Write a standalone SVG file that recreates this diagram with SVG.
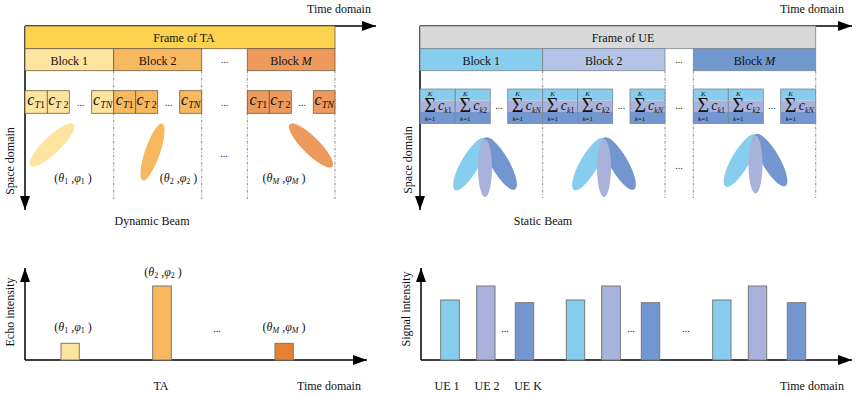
<svg xmlns="http://www.w3.org/2000/svg" width="858" height="395" viewBox="0 0 858 395">
<style>
text{font-family:"Liberation Serif","Times New Roman",serif;fill:#111;}
.t12{font-size:12px;}
.mid{text-anchor:middle;}
.it{font-style:italic;}
.dots{font-size:10px;text-anchor:middle;}
.ax{stroke:#000;stroke-width:1.5;fill:none;}
.dash{stroke:#666;stroke-width:0.7;stroke-dasharray:3 1.5 1 1.5;fill:none;}
.lb{stroke:#6f5f42;stroke-width:0.8;}
.rb{stroke:#7a8590;stroke-width:0.8;}
.bar{stroke:#777;stroke-width:1;}
.y1{fill:#FFE49F;} .y2{fill:#F7B860;} .y3{fill:#EE9A5C;} .y4{fill:#E8812F;}
.b1{fill:#87CDEE;} .b2{fill:#A9B2DB;} .b3{fill:#7396D0;}
.ct{font-size:16px;font-style:italic;text-anchor:middle;}
.sb{font-size:10px;}
.cs{font-size:14px;font-style:italic;}
.ss{font-size:8px;}
.sig{font-size:20px;text-anchor:middle;}
.lim{font-size:7px;text-anchor:middle;}
</style>
<defs>
<marker id="arr" viewBox="0 0 14 10" refX="14" refY="5" markerWidth="14" markerHeight="10" orient="auto" markerUnits="userSpaceOnUse"><path d="M0,0 L14,5 L0,10 Z" fill="#000"/></marker>
<g id="rcell">
<rect x="0" y="0" width="35" height="11.5" class="b1"/>
<rect x="0" y="11.5" width="35" height="11.5" class="b2"/>
<rect x="0" y="23" width="35" height="11.5" class="b3"/>
<rect x="0" y="0" width="35" height="34.5" fill="none" class="rb"/>
<text x="10" y="23" class="sig">Σ</text>
<text x="10" y="7" class="lim it">K</text>
<text x="10" y="32" class="lim"><tspan class="it">k</tspan>=1</text>
</g>
<g id="beam">
<ellipse cx="-15" cy="26" rx="30" ry="9" class="b1" transform="rotate(-60 -15 26)"/>
<ellipse cx="15" cy="25.5" rx="30" ry="9" class="b3" transform="rotate(60 15 25.5)"/>
<ellipse cx="0" cy="30" rx="7" ry="29" class="b2"/>
</g>
</defs>

<!-- connectors / axes -->
<g id="connectors">
<line x1="25" y1="26" x2="376" y2="26" class="ax" marker-end="url(#arr)"/>
<line x1="25" y1="26" x2="25" y2="210" class="ax" marker-end="url(#arr)"/>
<line x1="420" y1="26" x2="852" y2="26" class="ax" marker-end="url(#arr)"/>
<line x1="420" y1="26" x2="420" y2="210" class="ax" marker-end="url(#arr)"/>
<line x1="25" y1="360" x2="25" y2="268" class="ax" marker-end="url(#arr)"/>
<line x1="25" y1="360" x2="367" y2="360" class="ax" marker-end="url(#arr)"/>
<line x1="421" y1="360" x2="421" y2="268" class="ax" marker-end="url(#arr)"/>
<line x1="421" y1="360" x2="852" y2="360" class="ax" marker-end="url(#arr)"/>
<line x1="113.7" y1="70.7" x2="113.7" y2="199" class="dash"/>
<line x1="201.7" y1="70.7" x2="201.7" y2="199" class="dash"/>
<line x1="247.3" y1="70.7" x2="247.3" y2="199" class="dash"/>
<line x1="335" y1="70.7" x2="335" y2="199" class="dash"/>
<line x1="542.7" y1="70.7" x2="542.7" y2="198" class="dash"/>
<line x1="665" y1="70.7" x2="665" y2="198" class="dash"/>
<line x1="693.3" y1="70.7" x2="693.3" y2="198" class="dash"/>
<line x1="815.7" y1="70.7" x2="815.7" y2="198" class="dash"/>
</g>

<!-- top-left: TA frame -->
<g id="ta-frame">
<rect x="25" y="26" width="310" height="22.7" fill="#FDD24F" class="lb"/>
<text x="184" y="41.5" class="t12 mid">Frame of TA</text>
</g>
<g id="ta-block1">
<rect x="25" y="48.7" width="88.7" height="22" class="y1 lb"/>
<text x="69.3" y="64.5" class="t12 mid">Block 1</text>
</g>
<g id="ta-block2">
<rect x="113.7" y="48.7" width="88" height="22" class="y2 lb"/>
<text x="157.7" y="64.5" class="t12 mid">Block 2</text>
</g>
<text x="224.5" y="63" class="dots">...</text>
<g id="ta-blockM">
<rect x="247.3" y="48.7" width="87.7" height="22" class="y3 lb"/>
<text x="291" y="64.5" class="t12 mid">Block <tspan class="it">M</tspan></text>
</g>

<g id="ta-cells1">
<rect x="25" y="90.7" width="22.3" height="22.6" class="y1 lb"/>
<rect x="47.3" y="90.7" width="22" height="22.6" class="y1 lb"/>
<rect x="91.7" y="90.7" width="22" height="22.6" class="y1 lb"/>
<text x="36.2" y="105" class="ct">c<tspan class="sb" dy="2.5">T</tspan><tspan class="sb" font-style="normal">1</tspan></text>
<text x="58.3" y="105" class="ct">c<tspan class="sb" dy="2.5">T</tspan><tspan class="sb" font-style="normal"> 2</tspan></text>
<text x="80.5" y="106" class="dots">...</text>
<text x="102.7" y="105" class="ct">c<tspan class="sb" dy="2.5">TN</tspan></text>
</g>
<g id="ta-cells2">
<rect x="113.7" y="90.7" width="22" height="22.6" class="y2 lb"/>
<rect x="135.7" y="90.7" width="22" height="22.6" class="y2 lb"/>
<rect x="179.7" y="90.7" width="22" height="22.6" class="y2 lb"/>
<text x="124.7" y="105" class="ct">c<tspan class="sb" dy="2.5">T</tspan><tspan class="sb" font-style="normal">1</tspan></text>
<text x="146.7" y="105" class="ct">c<tspan class="sb" dy="2.5">T</tspan><tspan class="sb" font-style="normal"> 2</tspan></text>
<text x="168.7" y="106" class="dots">...</text>
<text x="190.7" y="105" class="ct">c<tspan class="sb" dy="2.5">TN</tspan></text>
</g>
<text x="224.5" y="106" class="dots">...</text>
<g id="ta-cellsM">
<rect x="247.3" y="90.7" width="22" height="22.6" class="y3 lb"/>
<rect x="269.3" y="90.7" width="22" height="22.6" class="y3 lb"/>
<rect x="313.3" y="90.7" width="21.7" height="22.6" class="y3 lb"/>
<text x="258.3" y="105" class="ct">c<tspan class="sb" dy="2.5">T</tspan><tspan class="sb" font-style="normal">1</tspan></text>
<text x="280.3" y="105" class="ct">c<tspan class="sb" dy="2.5">T</tspan><tspan class="sb" font-style="normal"> 2</tspan></text>
<text x="302.3" y="106" class="dots">...</text>
<text x="324.2" y="105" class="ct">c<tspan class="sb" dy="2.5">TN</tspan></text>
</g>

<g id="ta-beams">
<ellipse cx="52" cy="145" rx="30" ry="8.5" class="y1" transform="rotate(-44 52 145)"/>
<ellipse cx="152.5" cy="152" rx="30" ry="7.5" class="y2" transform="rotate(-71 152.5 152)"/>
<ellipse cx="311" cy="145.5" rx="30" ry="8.5" class="y3" transform="rotate(45 311 145.5)"/>
<text x="224" y="157" class="dots">...</text>
<text x="73" y="182" class="t12 mid">(<tspan class="it">θ</tspan><tspan font-size="8" dy="2">1</tspan><tspan dy="-2"> ,</tspan><tspan class="it">φ</tspan><tspan font-size="8" dy="2">1</tspan><tspan dy="-2"> )</tspan></text>
<text x="178.5" y="182" class="t12 mid">(<tspan class="it">θ</tspan><tspan font-size="8" dy="2">2</tspan><tspan dy="-2"> ,</tspan><tspan class="it">φ</tspan><tspan font-size="8" dy="2">2</tspan><tspan dy="-2"> )</tspan></text>
<text x="284" y="182" class="t12 mid">(<tspan class="it">θ</tspan><tspan font-size="8" dy="2" class="it">M</tspan><tspan dy="-2"> ,</tspan><tspan class="it">φ</tspan><tspan font-size="8" dy="2" class="it">M</tspan><tspan dy="-2"> )</tspan></text>
</g>

<text x="339" y="12.5" class="t12 mid">Time domain</text>
<text transform="translate(13.5,161) rotate(-90)" class="t12 mid">Space domain</text>
<text x="152" y="225" class="t12 mid">Dynamic Beam</text>

<!-- top-right: UE frame -->
<g id="ue-frame">
<rect x="420" y="26" width="395.7" height="22.7" fill="#D9D9D9" class="rb"/>
<text x="623" y="41.5" class="t12 mid">Frame of UE</text>
</g>
<g id="ue-block1">
<rect x="420" y="48.7" width="122.7" height="22" class="b1 rb"/>
<text x="481.3" y="64.5" class="t12 mid">Block 1</text>
</g>
<g id="ue-block2">
<rect x="542.7" y="48.7" width="122.3" height="22" fill="#B4C5E7" class="rb"/>
<text x="603.8" y="64.5" class="t12 mid">Block 2</text>
</g>
<text x="679" y="63" class="dots">...</text>
<g id="ue-blockM">
<rect x="693.3" y="48.7" width="122.4" height="22" fill="#7098CC" class="rb"/>
<text x="754.5" y="64.5" class="t12 mid">Block <tspan class="it">M</tspan></text>
</g>

<g id="ue-cells1">
<use href="#rcell" x="420" y="89"/>
<use href="#rcell" x="455.3" y="89"/>
<use href="#rcell" x="507.7" y="89"/>
<text x="438" y="110" class="cs">c<tspan class="ss" dy="2.5">k</tspan><tspan class="ss" font-style="normal">1</tspan></text>
<text x="473.3" y="110" class="cs">c<tspan class="ss" dy="2.5">k</tspan><tspan class="ss" font-style="normal">2</tspan></text>
<text x="499" y="109" class="dots">...</text>
<text x="525.7" y="110" class="cs">c<tspan class="ss" dy="2.5">kN</tspan></text>
</g>
<g id="ue-cells2">
<use href="#rcell" x="542.7" y="89"/>
<use href="#rcell" x="577.7" y="89"/>
<use href="#rcell" x="630" y="89"/>
<text x="560.7" y="110" class="cs">c<tspan class="ss" dy="2.5">k</tspan><tspan class="ss" font-style="normal">1</tspan></text>
<text x="595.7" y="110" class="cs">c<tspan class="ss" dy="2.5">k</tspan><tspan class="ss" font-style="normal">2</tspan></text>
<text x="621.5" y="109" class="dots">...</text>
<text x="648" y="110" class="cs">c<tspan class="ss" dy="2.5">kN</tspan></text>
</g>
<text x="679" y="109" class="dots">...</text>
<g id="ue-cellsM">
<use href="#rcell" x="693.3" y="89"/>
<use href="#rcell" x="728.3" y="89"/>
<use href="#rcell" x="780.7" y="89"/>
<text x="711.3" y="110" class="cs">c<tspan class="ss" dy="2.5">k</tspan><tspan class="ss" font-style="normal">1</tspan></text>
<text x="746.3" y="110" class="cs">c<tspan class="ss" dy="2.5">k</tspan><tspan class="ss" font-style="normal">2</tspan></text>
<text x="772" y="109" class="dots">...</text>
<text x="798.7" y="110" class="cs">c<tspan class="ss" dy="2.5">kN</tspan></text>
</g>

<g id="ue-beams">
<use href="#beam" x="485" y="138"/>
<use href="#beam" x="604" y="138"/>
<use href="#beam" x="755.5" y="134.5"/>
<text x="679" y="169" class="dots">...</text>
</g>

<text x="812" y="12.5" class="t12 mid">Time domain</text>
<text transform="translate(412,160) rotate(-90)" class="t12 mid">Space domain</text>
<text x="543" y="225" class="t12 mid">Static Beam</text>

<!-- bottom-left chart -->
<g id="echo-chart">
<rect x="61" y="343.3" width="18.3" height="16.7" class="y1 bar"/>
<rect x="152.7" y="286" width="18.6" height="74" class="y2 bar"/>
<rect x="275" y="343.3" width="18.3" height="16.7" class="y4 bar"/>
<text x="73" y="331" class="t12 mid">(<tspan class="it">θ</tspan><tspan font-size="8" dy="2">1</tspan><tspan dy="-2"> ,</tspan><tspan class="it">φ</tspan><tspan font-size="8" dy="2">1</tspan><tspan dy="-2"> )</tspan></text>
<text x="163" y="276" class="t12 mid">(<tspan class="it">θ</tspan><tspan font-size="8" dy="2">2</tspan><tspan dy="-2"> ,</tspan><tspan class="it">φ</tspan><tspan font-size="8" dy="2">2</tspan><tspan dy="-2"> )</tspan></text>
<text x="284" y="331" class="t12 mid">(<tspan class="it">θ</tspan><tspan font-size="8" dy="2" class="it">M</tspan><tspan dy="-2"> ,</tspan><tspan class="it">φ</tspan><tspan font-size="8" dy="2" class="it">M</tspan><tspan dy="-2"> )</tspan></text>
<text x="217" y="332" class="dots">...</text>
<text x="161" y="390" class="t12 mid">TA</text>
<text x="329" y="390" class="t12 mid">Time domain</text>
<text transform="translate(13.5,312) rotate(-90)" class="t12 mid">Echo intensity</text>
</g>

<!-- bottom-right chart -->
<g id="signal-chart">
<rect x="440.7" y="300" width="18.6" height="60" class="b1 bar"/>
<rect x="476.7" y="286" width="18.3" height="74" class="b2 bar"/>
<rect x="515.3" y="302.7" width="18.4" height="57.3" class="b3 bar"/>
<rect x="566.3" y="300" width="18.4" height="60" class="b1 bar"/>
<rect x="601.7" y="286" width="18.6" height="74" class="b2 bar"/>
<rect x="641.3" y="302.7" width="18.4" height="57.3" class="b3 bar"/>
<rect x="712.7" y="300" width="18.3" height="60" class="b1 bar"/>
<rect x="748.3" y="286" width="18.4" height="74" class="b2 bar"/>
<rect x="787.3" y="302.7" width="18.4" height="57.3" class="b3 bar"/>
<text x="505" y="332" class="dots">...</text>
<text x="631" y="332" class="dots">...</text>
<text x="686" y="332" class="dots">...</text>
<text x="447" y="390" class="t12 mid">UE 1</text>
<text x="487" y="390" class="t12 mid">UE 2</text>
<text x="528" y="390" class="t12 mid">UE K</text>
<text x="812" y="390" class="t12 mid">Time domain</text>
<text transform="translate(410,309) rotate(-90)" class="t12 mid">Signal intensity</text>
</g>
</svg>
